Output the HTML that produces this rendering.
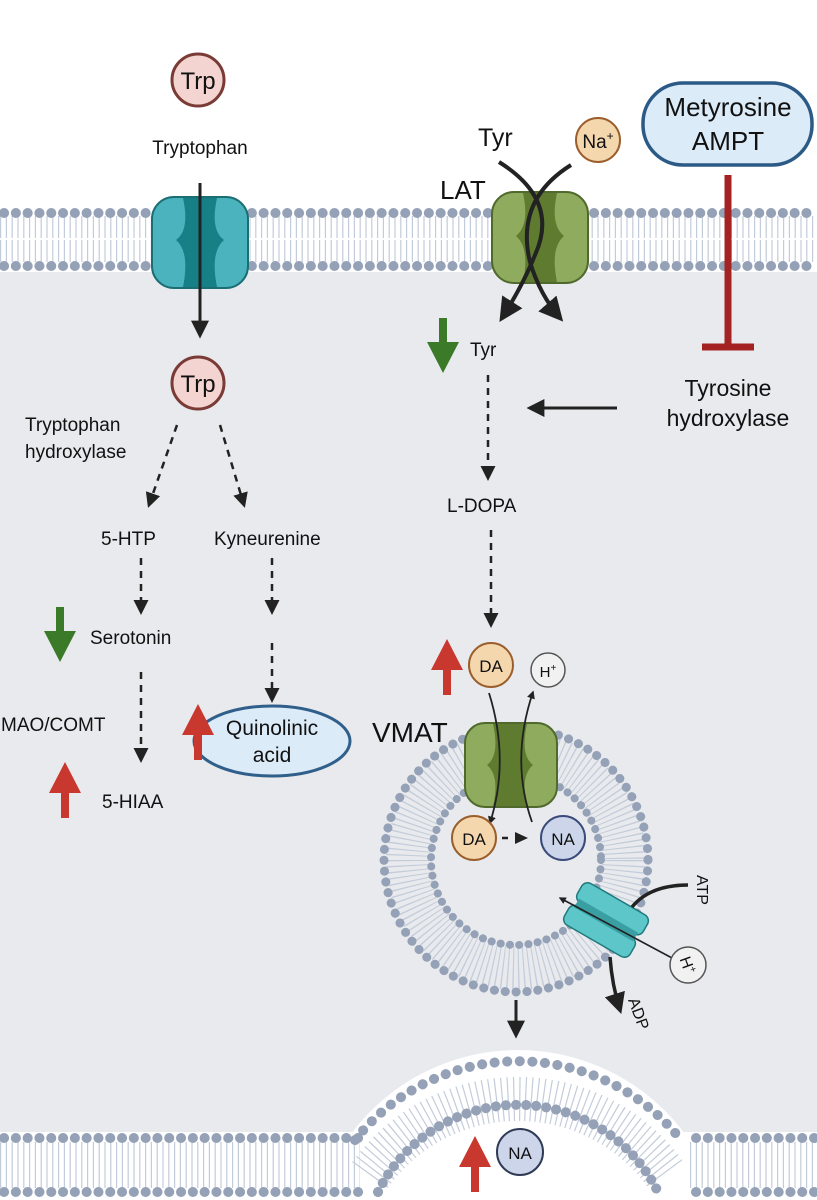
<!DOCTYPE html>
<html><head><meta charset="utf-8"><style>
html,body{margin:0;padding:0;background:#fff;width:817px;height:1200px;overflow:hidden}
svg{display:block;overflow:hidden}
text{font-family:"Liberation Sans",sans-serif;fill:#111}
</style></head><body>
<svg width="817" height="1200" viewBox="0 0 817 1200" xmlns="http://www.w3.org/2000/svg">
<defs>
<clipPath id="cp"><rect x="0" y="0" width="817" height="1199"/></clipPath>
<marker id="ah" viewBox="0 0 10 10" refX="8" refY="5" markerWidth="6" markerHeight="6" orient="auto"><path d="M0,0L10,5L0,10z" fill="#222"/></marker>
<marker id="ahs" viewBox="0 0 10 10" refX="8" refY="5" markerWidth="4.5" markerHeight="4.5" orient="auto"><path d="M0,0L10,5L0,10z" fill="#222"/></marker>
<marker id="ahb" viewBox="0 0 10 10" refX="8" refY="5" markerWidth="6" markerHeight="6" orient="auto"><path d="M0,0L10,5L0,10z" fill="#222"/></marker>
</defs>
<g clip-path="url(#cp)">
<rect x="0" y="0" width="817" height="1200" fill="#fff"/>
<rect x="0" y="272" width="817" height="860" fill="#e9eaed"/>
<circle cx="518" cy="1258" r="208" fill="#fff"/>
<rect x="0" y="1132" width="817" height="68" fill="#fff"/>

<line x1="0" y1="239" x2="817" y2="239" stroke="#c3ccda" stroke-width="46" stroke-dasharray="1.2 4.6"/>
<line x1="0" y1="239" x2="817" y2="239" stroke="#fff" stroke-width="2"/>
<line x1="4" y1="213" x2="817" y2="213" stroke="#94a1b6" stroke-width="10" stroke-linecap="round" stroke-dasharray="0.1 11.7"/>
<line x1="4" y1="266" x2="817" y2="266" stroke="#94a1b6" stroke-width="10" stroke-linecap="round" stroke-dasharray="0.1 11.7"/>

<line x1="0" y1="1165" x2="360" y2="1165" stroke="#c3ccda" stroke-width="46" stroke-dasharray="1.2 4.6"/>
<line x1="690" y1="1165" x2="817" y2="1165" stroke="#c3ccda" stroke-width="46" stroke-dasharray="1.2 4.6"/>
<line x1="4" y1="1138" x2="360" y2="1138" stroke="#94a1b6" stroke-width="10" stroke-linecap="round" stroke-dasharray="0.1 11.7"/>
<line x1="4" y1="1192" x2="360" y2="1192" stroke="#94a1b6" stroke-width="10" stroke-linecap="round" stroke-dasharray="0.1 11.7"/>
<line x1="696" y1="1138" x2="817" y2="1138" stroke="#94a1b6" stroke-width="10" stroke-linecap="round" stroke-dasharray="0.1 11.7"/>
<line x1="696" y1="1192" x2="817" y2="1192" stroke="#94a1b6" stroke-width="10" stroke-linecap="round" stroke-dasharray="0.1 11.7"/>
<path d="M355,1140 A208,208 0 0 1 681,1140" fill="none" stroke="#94a1b6" stroke-width="10" stroke-linecap="round" stroke-dasharray="0.1 12.5"/>
<path d="M370,1175 A182,182 0 0 1 666,1175" fill="none" stroke="#c3ccda" stroke-width="44" stroke-dasharray="1.2 4.6"/>
<path d="M378,1192 A156,156 0 0 1 658,1192" fill="none" stroke="#94a1b6" stroke-width="10" stroke-linecap="round" stroke-dasharray="0.1 10"/>

<circle cx="516" cy="860" r="108" fill="none" stroke="#c3ccda" stroke-width="44" stroke-dasharray="1.2 4"/>
<circle cx="516" cy="860" r="132" fill="none" stroke="#94a1b6" stroke-width="9" stroke-linecap="round" stroke-dasharray="0.1 10.8"/>
<circle cx="516" cy="860" r="85" fill="#e9eaed" stroke="#94a1b6" stroke-width="8" stroke-linecap="round" stroke-dasharray="0.1 9.2"/>

<circle cx="198" cy="80" r="26" fill="#f3d4d0" stroke="#7a3b37" stroke-width="3"/>
<text x="198" y="89" font-size="24" text-anchor="middle">Trp</text>
<text x="200" y="154" font-size="19" text-anchor="middle">Tryptophan</text>
<rect x="152" y="197" width="96" height="91" rx="22" fill="#4bb3bd" stroke="#1b6e74" stroke-width="2"/>
<path d="M183,198 Q190,230 176,240 Q190,252 183,287 L217,287 Q210,252 224,240 Q210,230 217,198 Z" fill="#178086"/>
<line x1="200" y1="183" x2="200" y2="335" stroke="#222" stroke-width="3" marker-end="url(#ahb)"/>
<circle cx="198" cy="383" r="26" fill="#f3d4d0" stroke="#7a3b37" stroke-width="3"/>
<text x="198" y="392" font-size="24" text-anchor="middle">Trp</text>
<text x="25" y="431" font-size="19">Tryptophan</text>
<text x="25" y="458" font-size="19">hydroxylase</text>
<g stroke="#222" stroke-width="2.5" stroke-dasharray="7 6" fill="none">
<line x1="177" y1="425" x2="149" y2="505" marker-end="url(#ah)"/>
<line x1="220" y1="425" x2="244" y2="505" marker-end="url(#ah)"/>
<line x1="141" y1="558" x2="141" y2="612" marker-end="url(#ah)"/>
<line x1="141" y1="672" x2="141" y2="760" marker-end="url(#ah)"/>
<line x1="272" y1="558" x2="272" y2="612" marker-end="url(#ah)"/>
<line x1="272" y1="643" x2="272" y2="700" marker-end="url(#ah)"/>
<line x1="488" y1="375" x2="488" y2="478" marker-end="url(#ah)"/>
<line x1="491" y1="530" x2="491" y2="625" marker-end="url(#ah)"/>
</g>
<text x="101" y="545" font-size="19">5-HTP</text>
<text x="214" y="545" font-size="19">Kyneurenine</text>
<text x="90" y="644" font-size="19">Serotonin</text>
<text x="1" y="731" font-size="19">MAO/COMT</text>
<text x="102" y="808" font-size="19">5-HIAA</text>
<path d="M56,607 h8 v24 h12 l-16,31 l-16,-31 h12z" fill="#3b7a28"/>
<path d="M439,318 h8 v24 h12 l-16,31 l-16,-31 h12z" fill="#3b7a28"/>
<path d="M61,818 h8 v-25 h12 l-16,-31 l-16,31 h12z" fill="#c8382e"/>
<ellipse cx="272" cy="741" rx="78" ry="35" fill="#dcebf8" stroke="#2f5f8a" stroke-width="3"/>
<path d="M194,760 h8 v-25 h12 l-16,-31 l-16,31 h12z" fill="#c8382e"/>
<text x="272" y="735" font-size="21" text-anchor="middle">Quinolinic</text>
<text x="272" y="762" font-size="21" text-anchor="middle">acid</text>
<path d="M443,695 h8 v-25 h12 l-16,-31 l-16,31 h12z" fill="#c8382e"/>
<path d="M471,1192 h8 v-25 h12 l-16,-31 l-16,31 h12z" fill="#c8382e"/>

<rect x="492" y="192" width="96" height="91" rx="22" fill="#8fab5e" stroke="#4f6a2c" stroke-width="2"/>
<path d="M523,193 Q530,225 516,236 Q530,248 523,282 L557,282 Q550,248 564,236 Q550,225 557,193 Z" fill="#5e7b30"/>
<text x="440" y="199" font-size="26">LAT</text>
<text x="478" y="146" font-size="25">Tyr</text>
<circle cx="598" cy="140" r="22" fill="#f5d7ae" stroke="#9a5e2c" stroke-width="2"/>
<text x="598" y="148" font-size="19" text-anchor="middle">Na<tspan font-size="12" dy="-8">+</tspan></text>
<path d="M499,162 Q560,200 535,255 Q523,285 502,318" fill="none" stroke="#222" stroke-width="4" marker-end="url(#ahb)"/>
<path d="M571,165 Q515,200 530,262 Q540,295 560,318" fill="none" stroke="#222" stroke-width="4" marker-end="url(#ahb)"/>
<text x="470" y="356" font-size="19">Tyr</text>
<rect x="643" y="83" width="169" height="82" rx="40" fill="#dcebf8" stroke="#2a5a85" stroke-width="3.5"/>
<text x="728" y="116" font-size="26" text-anchor="middle">Metyrosine</text>
<text x="728" y="150" font-size="26" text-anchor="middle">AMPT</text>
<line x1="728" y1="175" x2="728" y2="347" stroke="#a52222" stroke-width="7"/>
<line x1="702" y1="347" x2="754" y2="347" stroke="#a52222" stroke-width="7"/>
<text x="728" y="396" font-size="23" text-anchor="middle">Tyrosine</text>
<text x="728" y="426" font-size="23" text-anchor="middle">hydroxylase</text>
<line x1="617" y1="408" x2="530" y2="408" stroke="#222" stroke-width="3" marker-end="url(#ahb)"/>
<text x="447" y="512" font-size="19">L-DOPA</text>

<circle cx="491" cy="665" r="22" fill="#f5d7ae" stroke="#9a5e2c" stroke-width="2"/>
<text x="491" y="672" font-size="17" text-anchor="middle">DA</text>
<circle cx="548" cy="670" r="17" fill="#f1f1f1" stroke="#555" stroke-width="1.5"/>
<text x="548" y="677" font-size="15" text-anchor="middle">H<tspan font-size="10" dy="-6">+</tspan></text>
<text x="372" y="742" font-size="28">VMAT</text>
<rect x="465" y="723" width="92" height="84" rx="20" fill="#8fab5e" stroke="#4f6a2c" stroke-width="2"/>
<path d="M493,724 Q500,755 487,765 Q500,776 493,806 L527,806 Q520,776 533,765 Q520,755 527,724 Z" fill="#5e7b30"/>
<path d="M489,693 Q510,760 490,823" fill="none" stroke="#222" stroke-width="1.8" marker-end="url(#ahs)"/>
<path d="M532,822 Q510,760 533,692" fill="none" stroke="#222" stroke-width="1.8" marker-end="url(#ahs)"/>
<circle cx="474" cy="838" r="22" fill="#f5d7ae" stroke="#9a5e2c" stroke-width="2"/>
<text x="474" y="845" font-size="17" text-anchor="middle">DA</text>
<circle cx="563" cy="838" r="22" fill="#ccd5ea" stroke="#3a4a7a" stroke-width="2"/>
<text x="563" y="845" font-size="17" text-anchor="middle">NA</text>
<line x1="502" y1="838" x2="508" y2="838" stroke="#222" stroke-width="2.5"/>
<path d="M515,832 L528,838 L515,844z" fill="#222"/>

<g transform="translate(606,920) rotate(30)">
<rect x="-38" y="-24" width="76" height="22" rx="7" fill="#5cc6c9" stroke="#1f7a7d" stroke-width="1.5"/>
<rect x="-38" y="2" width="76" height="22" rx="7" fill="#5cc6c9" stroke="#1f7a7d" stroke-width="1.5"/>
<rect x="-34" y="-5" width="68" height="10" fill="#3a9fa3"/>
</g>
<line x1="672" y1="958" x2="560" y2="898" stroke="#222" stroke-width="1.6" marker-end="url(#ahs)"/>
<circle cx="688" cy="965" r="18" fill="#f1f1f1" stroke="#555" stroke-width="1.5"/>
<text transform="translate(688,965) rotate(70)" x="0" y="6" font-size="16" text-anchor="middle">H<tspan font-size="10" dy="-6">+</tspan></text>
<path d="M632,907 Q650,885 688,885" fill="none" stroke="#222" stroke-width="3.5"/>
<text transform="translate(697,875) rotate(90)" x="0" y="0" font-size="16">ATP</text>
<path d="M610,957 Q612,985 620,1010" fill="none" stroke="#222" stroke-width="3.5" marker-end="url(#ahb)"/>
<text transform="translate(628,1000) rotate(70)" x="0" y="0" font-size="16">ADP</text>
<line x1="516" y1="1000" x2="516" y2="1035" stroke="#222" stroke-width="3" marker-end="url(#ahb)"/>

<circle cx="520" cy="1152" r="23" fill="#ccd5ea" stroke="#2f3a55" stroke-width="2"/>
<text x="520" y="1159" font-size="17" text-anchor="middle">NA</text>
</g>
</svg>
</body></html>
